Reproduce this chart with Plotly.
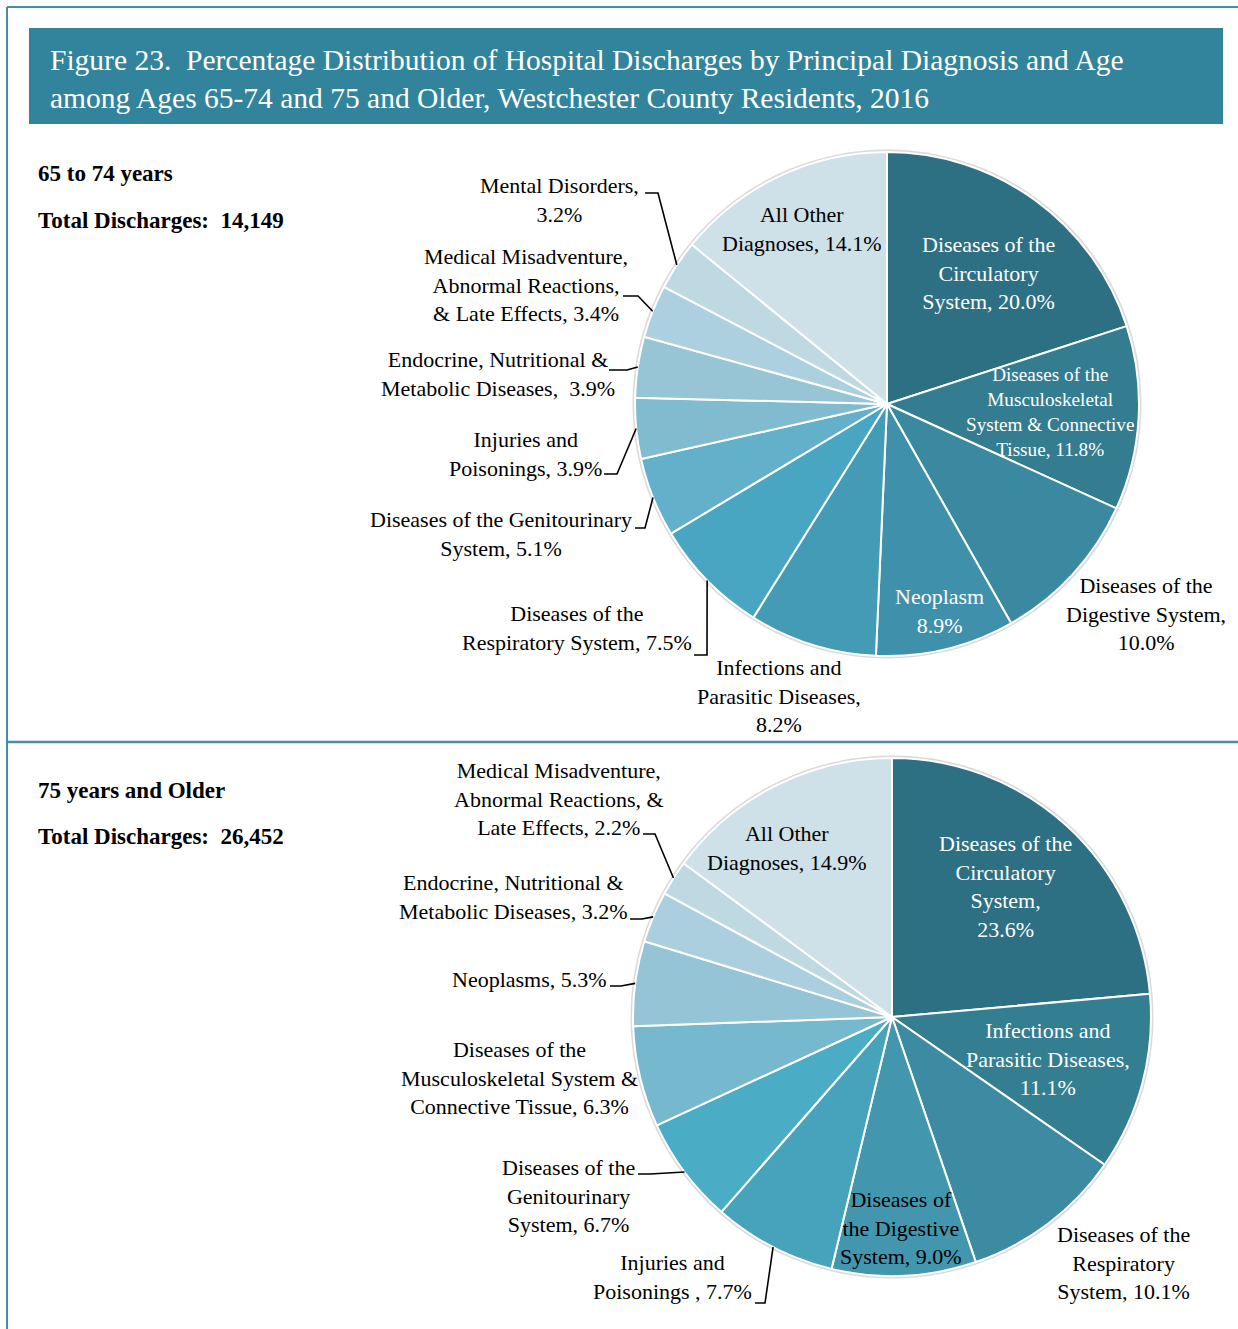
import math
import plotly.graph_objects as go

W, H = 1238, 1329

# ---------------- data ----------------
top_labels = ["Diseases of the Circulatory System", "Diseases of the Musculoskeletal System & Connective Tissue",
              "Diseases of the Digestive System", "Neoplasm", "Infections and Parasitic Diseases",
              "Diseases of the Respiratory System", "Diseases of the Genitourinary System",
              "Injuries and Poisonings", "Endocrine, Nutritional & Metabolic Diseases",
              "Medical Misadventure, Abnormal Reactions, & Late Effects", "Mental Disorders",
              "All Other Diagnoses"]
top_values = [20.0, 11.8, 10.0, 8.9, 8.2, 7.5, 5.1, 3.9, 3.9, 3.4, 3.2, 14.1]
top_colors = ["#2E7083", "#347D90", "#3B89A0", "#3F91AB", "#439BB6", "#49A6C2",
              "#62B0CA", "#80BBD0", "#98C5D6", "#ACD0DF", "#BFD9E3", "#CEE1E8"]

bot_labels = ["Diseases of the Circulatory System", "Infections and Parasitic Diseases",
              "Diseases of the Respiratory System", "Diseases of the Digestive System",
              "Injuries and Poisonings", "Diseases of the Genitourinary System",
              "Diseases of the Musculoskeletal System & Connective Tissue", "Neoplasms",
              "Endocrine, Nutritional & Metabolic Diseases",
              "Medical Misadventure, Abnormal Reactions, & Late Effects", "All Other Diagnoses"]
bot_values = [23.6, 11.1, 10.1, 9.0, 7.7, 6.7, 6.3, 5.3, 3.2, 2.2, 14.9]
bot_colors = ["#2E7083", "#347E91", "#3D8BA3", "#4297AF", "#47A2BC", "#4BACC6",
              "#76B9CF", "#94C4D6", "#ABCFDE", "#BFD9E3", "#CEE1E8"]

title_lines = ["Figure 23.\u00a0 Percentage Distribution of Hospital Discharges by Principal Diagnosis and Age",
               "among Ages 65-74 and 75 and Older, Westchester County Residents, 2016"]
panel_titles = ["65 to 74 years", "75 years and Older"]
panel_totals = ["Total Discharges:\u00a0 14,149", "Total Discharges:\u00a0 26,452"]

# label texts shown on the chart (one per slice, same order as values)
top_texts = ["Diseases of the<br>Circulatory<br>System, 20.0%",
             "Diseases of the<br>Musculoskeletal<br>System & Connective<br>Tissue, 11.8%",
             "Diseases of the<br>Digestive System,<br>10.0%",
             "Neoplasm<br>8.9%",
             "Infections and<br>Parasitic Diseases,<br>8.2%",
             "Diseases of the<br>Respiratory System, 7.5%",
             "Diseases of the Genitourinary<br>System, 5.1%",
             "Injuries and<br>Poisonings, 3.9%",
             "Endocrine, Nutritional &<br>Metabolic Diseases,\u00a0 3.9%",
             "Medical Misadventure,<br>Abnormal Reactions,<br>& Late Effects, 3.4%",
             "Mental Disorders,<br>3.2%",
             "All Other<br>Diagnoses, 14.1%"]
bot_texts = ["Diseases of the<br>Circulatory<br>System,<br>23.6%",
             "Infections and<br>Parasitic Diseases,<br>11.1%",
             "Diseases of the<br>Respiratory<br>System, 10.1%",
             "Diseases of<br>the Digestive<br>System, 9.0%",
             "Injuries and<br>Poisonings , 7.7%",
             "Diseases of the<br>Genitourinary<br>System, 6.7%",
             "Diseases of the<br>Musculoskeletal System &<br>Connective Tissue, 6.3%",
             "Neoplasms, 5.3%",
             "Endocrine, Nutritional &<br>Metabolic Diseases, 3.2%",
             "Medical Misadventure,<br>Abnormal Reactions, &<br>Late Effects, 2.2%",
             "All Other<br>Diagnoses, 14.9%"]

# ---------------- layout (pixel positions) ----------------
SERIF = "Liberation Serif"
TEAL = "#31849B"
FRAME = "#4390A6"
LS = 22  # label font size

top_pie = dict(cx=887, cy=404, r=252)
bot_pie = dict(cx=892, cy=1017, r=259)

# label placement: (center x, center y, font color, font size)
top_pos = [(988, 273, "white", LS), (1050, 412, "white", 19.2), (1146, 614, "black", LS),
           (939, 611, "white", LS), (779, 696, "black", LS), (577, 628, "black", LS),
           (501, 534, "black", LS), (525, 454, "black", LS), (498, 374, "black", LS),
           (526, 285, "black", LS), (559, 200, "black", LS), (801, 229, "black", LS)]
bot_pos = [(1005, 886, "white", LS), (1048, 1059, "white", LS), (1123, 1263, "black", LS),
           (901, 1228, "black", LS), (673, 1277, "black", LS), (568, 1196, "black", LS),
           (519, 1078, "black", LS), (529, 979, "black", LS), (513, 897, "black", LS),
           (559, 799, "black", LS), (786, 848, "black", LS)]

# leader lines: slice index -> (label-side start, elbow)
top_leaders = {10: ((645, 193), (658, 193)), 9: ((623, 296), (638, 296)),
               8: ((609, 370), (627, 370)), 7: ((604, 474), (617, 474)),
               6: ((635, 528), (645, 528)), 5: ((694, 655), (707, 655))}
bot_leaders = {9: ((643, 834), (655, 834)), 8: ((630, 919), (642, 919)),
               7: ((610, 986), (621, 986)), 5: ((638, 1174), (650, 1174)),
               4: ((755, 1303), (765, 1303))}


def px(x):
    return x / W


def py(y):
    return 1 - y / H


fig = go.Figure()
shapes = []
annotations = []


def add_pie(values, colors, labels, p):
    r = p["r"]
    # soft grey rim behind the pie
    shapes.append(dict(type="circle", xref="paper", yref="paper", layer="below",
                       x0=px(p["cx"] - r - 2.5), x1=px(p["cx"] + r + 2.5),
                       y0=py(p["cy"] + r + 2.5), y1=py(p["cy"] - r - 2.5),
                       fillcolor="#DADADA", line=dict(width=0)))
    fig.add_trace(go.Pie(
        values=values, labels=labels, sort=False, direction="clockwise", rotation=0,
        marker=dict(colors=colors, line=dict(color="white", width=2)),
        textinfo="none", hoverinfo="label+value", showlegend=False,
        domain=dict(x=[px(p["cx"] - r), px(p["cx"] + r)], y=[py(p["cy"] + r), py(p["cy"] - r)]),
    ))


def edge_point(values, idx, p):
    total = sum(values)
    before = sum(values[:idx])
    frac = (before + values[idx] / 2) / total
    ang = 2 * math.pi * frac
    return p["cx"] + p["r"] * math.sin(ang), p["cy"] - p["r"] * math.cos(ang)


def add_labels(texts, pos, values, p, leaders):
    for t, (x, y, c, s) in zip(texts, pos):
        annotations.append(dict(text=t, x=px(x), y=py(y), xref="paper", yref="paper",
                                xanchor="center", yanchor="middle", showarrow=False,
                                font=dict(family=SERIF, size=s, color=c), align="center"))
    for idx, (start, elbow) in leaders.items():
        ex, ey = edge_point(values, idx, p)
        path = "M {} {} L {} {} L {} {}".format(px(start[0]), py(start[1]), px(elbow[0]), py(elbow[1]),
                                                px(ex), py(ey))
        shapes.append(dict(type="path", xref="paper", yref="paper", path=path,
                           line=dict(color="black", width=1.6)))


add_pie(top_values, top_colors, top_labels, top_pie)
add_pie(bot_values, bot_colors, bot_labels, bot_pie)
add_labels(top_texts, top_pos, top_values, top_pie, top_leaders)
add_labels(bot_texts, bot_pos, bot_values, bot_pie, bot_leaders)

# frame and banner
shapes.append(dict(type="line", xref="paper", yref="paper", x0=px(7), x1=1, y0=py(7), y1=py(7),
                   line=dict(color=FRAME, width=2)))
shapes.append(dict(type="line", xref="paper", yref="paper", x0=px(7), x1=px(7), y0=py(7), y1=0,
                   line=dict(color=FRAME, width=2)))
shapes.append(dict(type="line", xref="paper", yref="paper", x0=px(7), x1=1, y0=py(742), y1=py(742),
                   line=dict(color=FRAME, width=2.5)))
shapes.append(dict(type="rect", xref="paper", yref="paper", x0=px(29), x1=px(1223), y0=py(124), y1=py(28),
                   fillcolor=TEAL, line=dict(width=0), layer="below"))

for i, (t, yy) in enumerate(zip(title_lines, [60, 98])):
    annotations.append(dict(text=t, x=px(48), y=py(yy), xref="paper", yref="paper", xanchor="left",
                            yanchor="middle", showarrow=False,
                            font=dict(family=SERIF, size=29.5, color="white")))

for t, tot, y1, y2 in zip(panel_titles, panel_totals, [173, 790], [221, 837]):
    annotations.append(dict(text="<b>" + t + "</b>", x=px(36), y=py(y1), xref="paper", yref="paper",
                            xanchor="left", yanchor="middle", showarrow=False,
                            font=dict(family=SERIF, size=23, color="black")))
    annotations.append(dict(text="<b>" + tot + "</b>", x=px(36), y=py(y2), xref="paper", yref="paper",
                            xanchor="left", yanchor="middle", showarrow=False,
                            font=dict(family=SERIF, size=23, color="black")))

fig.update_layout(width=W, height=H, margin=dict(l=0, r=0, t=0, b=0),
                  paper_bgcolor="white", plot_bgcolor="white",
                  shapes=shapes, annotations=annotations)

fig.write_html("out.html", config={"displayModeBar": False},
               post_script="document.body.style.margin='0';document.body.style.padding='0';"
                           "document.documentElement.style.overflow='hidden';")
